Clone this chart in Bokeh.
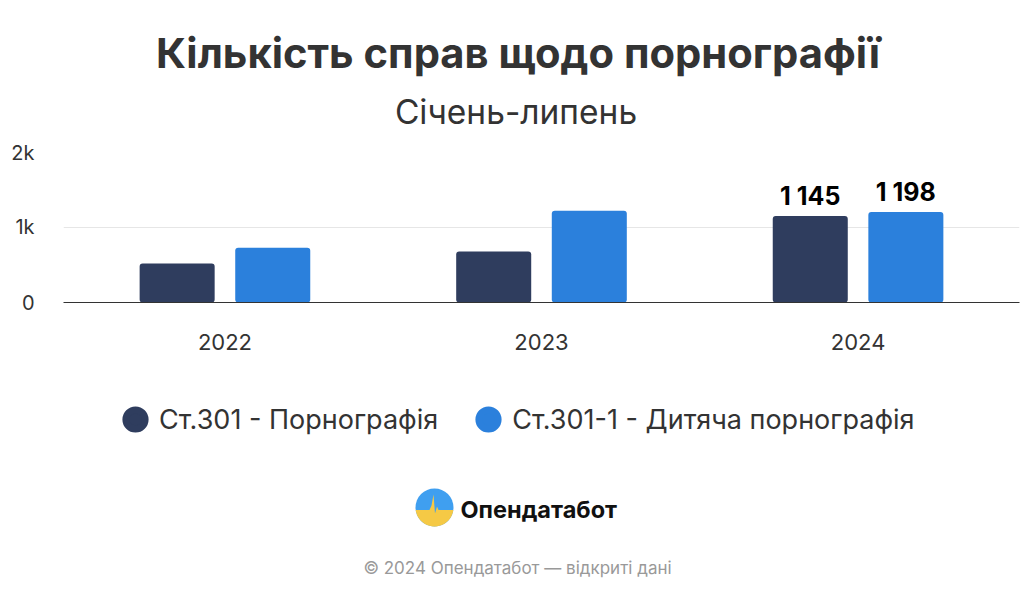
from bokeh.plotting import figure
from bokeh.layouts import column
from bokeh.models import (FactorRange, Range1d, FixedTicker, Label, BoxAnnotation,
                          PolyAnnotation, Legend, LegendItem, ColumnDataSource)
from bokeh.transform import dodge
from bokeh.core.properties import value
from bokeh.embed import file_html
from bokeh.resources import INLINE
import math

# ---------------- data ----------------
years = ["2022", "2023", "2024"]
porn_cases = [515, 675, 1145]          # Ст.301
child_cases = [725, 1215, 1198]        # Ст.301-1
series_names = ["Ст.301 - Порнографія", "Ст.301-1 - Дитяча порнографія"]
series_colors = ["#2f3d5e", "#2b80dc"]
labeled_years = ["2024"]
y_ticks = [0, 1000, 2000]
y_tick_labels = ["0", "1k", "2k"]
title_text = "Кількість справ щодо порнографії"
subtitle_text = "Січень-липень"
brand_text = "Опендатабот"
footer_text = "© 2024 Опендатабот — відкриті дані"

FONT = "Inter"
W = 1024
H_HEAD, H_CHART, H_FOOT = 140, 225, 229


def blank(h):
    f = figure(width=W, height=h, x_range=Range1d(0, 1), y_range=Range1d(0, 1),
               x_axis_type=None, y_axis_type=None, output_backend="svg",
               toolbar_location=None, min_border=0)
    f.outline_line_color = None
    f.grid.visible = False
    f.background_fill_color = "white"
    f.border_fill_color = "white"
    return f


# ---------------- header ----------------
head = blank(H_HEAD)
head.add_layout(Label(x=517.5, y=52.5, x_units="canvas", y_units="canvas", text=title_text,
                      text_align="center", text_baseline="alphabetic", text_font=FONT,
                      text_font_style="bold", text_font_size="41.7px", text_color="#333333"))
head.add_layout(Label(x=515.5, y=111, x_units="canvas", y_units="canvas", text=subtitle_text,
                      text_align="center", text_baseline="alphabetic", text_font=FONT,
                      text_font_size="33.5px", text_color="#333333"))

# ---------------- chart ----------------
p = figure(width=W, height=H_CHART,
           x_range=FactorRange(*years, range_padding=0.01, range_padding_units="absolute"),
           y_range=Range1d(0, 2000),
           output_backend="svg", toolbar_location=None,
           min_border_left=63, min_border_right=5,
           min_border_top=11, min_border_bottom=63)
p.outline_line_color = None
p.background_fill_color = "white"
p.border_fill_color = "white"

src = ColumnDataSource(dict(year=years, a=porn_cases, b=child_cases))
bw = 0.237
off = 0.151
p.vbar(x=dodge("year", -off, range=p.x_range), top="a", width=bw, source=src,
       fill_color=series_colors[0], line_color=None, border_radius=3)
p.vbar(x=dodge("year", off, range=p.x_range), top="b", width=bw, source=src,
       fill_color=series_colors[1], line_color=None, border_radius=3)

lab_x, lab_y, lab_t = [], [], []
for yr, a, b in zip(years, porn_cases, child_cases):
    if yr in labeled_years:
        for v, o in ((a, -off), (b, off)):
            lab_x.append((yr, o))
            lab_y.append(v)
            lab_t.append(f"{v:,}".replace(",", " "))
lsrc = ColumnDataSource(dict(x=lab_x, y=lab_y, t=lab_t))
p.text(x="x", y="y", text="t", source=lsrc, text_align="center", text_baseline="alphabetic",
       y_offset=-20, text_font=value(FONT), text_font_style="bold", text_font_size="25px",
       text_color="#000000")

xa = p.xaxis[0]
xa.axis_line_color = "#333333"
xa.axis_line_width = 1
xa.major_tick_line_color = None
xa.minor_tick_line_color = None
xa.major_tick_out = 0
xa.major_tick_in = 0
xa.major_label_text_font = FONT
xa.major_label_text_font_size = "22px"
xa.major_label_text_color = "#333333"
xa.major_label_standoff = 31

ya = p.yaxis[0]
ya.ticker = FixedTicker(ticks=y_ticks)
ya.major_label_overrides = {t: l for t, l in zip(y_ticks, y_tick_labels)}
ya.axis_line_color = None
ya.major_tick_line_color = None
ya.minor_tick_line_color = None
ya.major_tick_out = 0
ya.major_tick_in = 0
ya.major_label_text_font = FONT
ya.major_label_text_font_size = "20px"
ya.major_label_text_color = "#333333"
ya.major_label_standoff = 29

p.xgrid.grid_line_color = None
p.ygrid.grid_line_color = "#e6e6e6"
p.ygrid.grid_line_width = 1

# ---------------- footer ----------------
foot = blank(H_FOOT)
# legend-only renderers: their points fall outside this panel's range, so only
# the legend swatches are visible
m1 = foot.scatter(x="a", y="b", source=src, marker="circle",
                  fill_color=series_colors[0], line_color=series_colors[0], line_width=7)
m2 = foot.scatter(x="a", y="b", source=src, marker="circle",
                  fill_color=series_colors[1], line_color=series_colors[1], line_width=7)
leg = Legend(items=[LegendItem(label=series_names[0], renderers=[m1]),
                    LegendItem(label=series_names[1], renderers=[m2])],
             orientation="horizontal", location=(48, 151),
             glyph_width=48, glyph_height=48, label_standoff=0, spacing=26,
             padding=0, margin=0, border_line_color=None, background_fill_alpha=0,
             label_text_font=FONT, label_text_font_size="27px", label_text_color="#333333")
foot.add_layout(leg, "center")

# logo (local coordinates of the footer canvas)
cx, cy, rr = 434, 142, 19
foot.add_layout(BoxAnnotation(left=cx - rr, right=cx + rr, top=cy - rr, bottom=cy + rr,
                              left_units="canvas", right_units="canvas", top_units="canvas",
                              bottom_units="canvas", border_radius=rr,
                              fill_color="#3f9ff0", fill_alpha=1, line_color=None))
ycut = cy + 2.5
half = math.sqrt(rr**2 - (ycut - cy)**2)
arc = []
for k in range(0, 61):
    t = math.pi * k / 60
    x0 = cx - rr * math.cos(t)
    y0 = cy + rr * math.sin(t)
    if y0 >= ycut:
        arc.append((x0, y0))
zig = [(cx + 4, ycut), (cx + 2.5, cy - 1), (cx + 0.5, cy + 6), (cx - 1, cy - 13),
       (cx - 3, cy - 2), (cx - 5, ycut)]
pts = [(cx - half, ycut)] + arc + [(cx + half, ycut)] + zig
foot.add_layout(PolyAnnotation(xs=[q[0] for q in pts], ys=[q[1] for q in pts],
                               xs_units="canvas", ys_units="canvas",
                               fill_color="#f5c945", fill_alpha=1, line_color=None))
foot.add_layout(Label(x=460, y=144, x_units="canvas", y_units="canvas", text=brand_text,
                      text_align="left", text_baseline="alphabetic", text_font=FONT,
                      text_font_style="bold", text_font_size="23.5px", text_color="#111111"))
foot.add_layout(Label(x=517, y=202, x_units="canvas", y_units="canvas", text=footer_text,
                      text_align="center", text_baseline="alphabetic", text_font=FONT,
                      text_font_size="17px", text_color="#999999"))

layout = column(head, p, foot, spacing=0)
open("out.html", "w").write(file_html(layout, INLINE))
